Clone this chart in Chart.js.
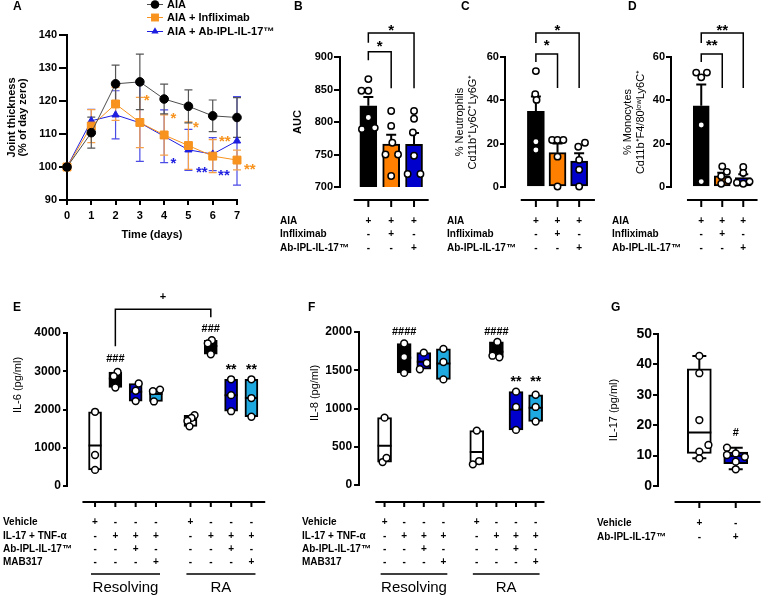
<!DOCTYPE html>
<html>
<head>
<meta charset="utf-8">
<title>AIA figure</title>
<script src="https://cdn.jsdelivr.net/npm/chart.js@4.4.1/dist/chart.umd.min.js"></script>
<style>
  html, body { margin: 0; padding: 0; background: #fff; }
  #fig { position: relative; width: 774px; height: 597px; overflow: hidden; background: #fff; }
  #fig canvas { position: absolute; }
</style>
</head>
<body>
<div id="fig"></div>
<script>
// ---------- data ----------

// A: joint thickness, mean and SEM per day
const days = [0, 1, 2, 3, 4, 5, 6, 7];
const seriesNames = ['AIA', 'AIA + Infliximab', 'AIA + Ab-IPL-IL-17™'];
const aiaMean = [100, 110.4, 125.2, 125.8, 120.6, 118.4, 115.5, 115.0];
const aiaSem = [0, 4.7, 5.7, 8.4, 4.5, 5.0, 4.8, 6.0];
const inflixMean = [100, 112.4, 119.1, 113.5, 109.7, 106.5, 103.3, 102.1];
const inflixSem = [0, 5.0, 5.0, 7.6, 6.1, 7.2, 5.0, 3.0];
const ablMean = [100, 114.0, 115.8, 113.4, 109.3, 105.2, 103.9, 107.9];
const ablSem = [0, 3.5, 7.3, 11.7, 8.0, 6.2, 5.0, 13.4];

// B-D: individual animals per group (bars = mean, whisker = SEM)
const treatRows = ['AIA', 'Infliximab', 'Ab-IPL-IL-17™'];
const treatSigns = [['+', '-', '-'], ['+', '+', '-'], ['+', '-', '+']];
const aucPts = [[866, 848, 848, 807, 789, 791], [817, 794, 768, 750, 750, 717], [817, 805, 784, 748, 720, 720]];
const neutroPts = [[53.5, 42.8, 40.2, 20.9, 17.1], [21.7, 21.7, 21.7, 14.0, 0.2], [18.6, 20.4, 12.5, 8.0, 0.2]];
const monoPts = [[52.8, 50.6, 52.8, 28.6, 2.5], [9.5, 7.0, 5.0, 3.0, 1.5], [9.2, 6.5, 2.0, 2.5, 1.5]];

// E-F: cytokines, min-max bars with line at mean
const cytoRows = ['Vehicle', 'IL-17 + TNF-α', 'Ab-IPL-IL-17™', 'MAB317'];
const cytoSigns = [['+', '-', '-', '-'], ['-', '+', '-', '-'], ['-', '+', '+', '-'], ['-', '+', '-', '+']];
const cytoGroups = ['Resolving', 'RA'];
const il6Pts = [[1940, 810, 420], [2980, 2870, 2575], [2680, 2490, 2220], [2520, 2480, 2210],
  [1850, 1780, 1700, 1560], [3810, 3730, 3445], [2790, 2375, 1955], [2790, 2300, 1810]];
const il8Pts = [[880, 300, 355], [1850, 1673, 1465], [1730, 1595, 1513], [1780, 1608, 1380],
  [711, 270, 313], [1870, 1690, 1670], [1220, 1020, 720], [1180, 1020, 830]];

// G: IL-17, box and whiskers (min to max)
const il17Rows = ['Vehicle', 'Ab-IPL-IL-17™'];
const il17Signs = [['+', '-'], ['-', '+']];
const il17Pts = [[42.8, 37.1, 21.7, 13.5, 11.3, 9.1], [12.6, 10.2, 10.7, 9.6, 8.0, 5.5]];

// horizontal spread of the dots (in category units)
const aucJit = [[0, -0.3, 0, 0, -0.28, 0.28], [0, 0, 0.05, -0.25, 0.3, 0], [0, 0, -0.05, 0, -0.28, 0.28]];
const neutroJit = [[0, -0.03, 0.03, 0, 0], [-0.25, 0, 0.27, 0, 0], [-0.04, 0.27, 0, 0, 0]];
const monoJit = [[-0.24, 0, 0.27, 0, 0], [0, 0.22, -0.05, 0.28, -0.05], [0, 0, -0.3, 0.3, 0]];
const il6Jit = [[0, 0, 0], [0.11, -0.08, 0], [0.15, 0, 0], [0.2, -0.15, -0.1], [0.2, 0.05, -0.15, -0.05], [0.05, -0.15, 0], [0, 0, 0], [0, 0, 0]];
const il8Jit = [[0, -0.1, 0.1], [0, 0, 0], [0, 0.15, -0.2], [0, 0, 0], [0, -0.2, 0.12], [0.05, -0.2, 0.15], [0, 0, 0], [0, 0, 0]];
const il17Jit = [[0, 0, 0, 0.25, 0, 0], [-0.24, -0.24, 0, 0.25, 0, 0]];

// ---------- style ----------
const FONT = '"Liberation Sans", Arial, Helvetica, sans-serif';
const BLACK = '#000000', WHITE = '#FFFFFF', ORANGE = '#FF8000', BLUE = '#0000CC', SKY = '#1FA9E1';
const A_GREY = '#4D4D4D', A_ORANGE = '#F7931E', A_BLUE = '#1E1EE0';
Chart.defaults.font.family = FONT;
Chart.defaults.color = '#000';

const fig = document.getElementById('fig');
const mean = a => a.reduce((s, v) => s + v, 0) / a.length;
const sem = a => {
  const m = mean(a);
  return Math.sqrt(a.reduce((s, v) => s + (v - m) ** 2, 0) / (a.length - 1) / a.length);
};
function quantile(a, p) {
  const s = [...a].sort((u, v) => u - v);
  const pos = p * (s.length + 1) - 1, lo = Math.floor(pos);
  if (lo < 0) return s[0];
  if (lo >= s.length - 1) return s[s.length - 1];
  return s[lo] + (pos - lo) * (s[lo + 1] - s[lo]);
}

function addCanvas(r) {
  const c = document.createElement('canvas');
  c.width = r[2]; c.height = r[3];
  c.style.left = r[0] + 'px'; c.style.top = r[1] + 'px';
  c.style.width = r[2] + 'px'; c.style.height = r[3] + 'px';
  fig.appendChild(c);
  return c;
}

function say(ctx, t, x, y, o = {}) {
  ctx.save();
  ctx.font = `${o.weight || 'bold'} ${o.size || 11}px ${FONT}`;
  ctx.fillStyle = o.color || '#000';
  ctx.textAlign = o.align || 'left';
  ctx.textBaseline = 'middle';
  ctx.translate(x, y);
  if (o.rot) ctx.rotate(o.rot);
  ctx.fillText(t, 0, 0);
  ctx.restore();
}

// significance text placed in data units
function mark(chart, xv, yv, t, size, color) {
  const { ctx, scales: { x, y } } = chart;
  let py = y.getPixelForValue(yv);
  if (t.includes('*')) py += size * 0.22;
  say(ctx, t, x.getPixelForValue(xv), py, { size, align: 'center', color });
}

function bracket(chart, b) {
  const { ctx, scales: { x, y } } = chart;
  const xa = x.getPixelForValue(b.a), xb = x.getPixelForValue(b.b), yt = y.getPixelForValue(b.top);
  ctx.save();
  ctx.strokeStyle = '#000'; ctx.lineWidth = 1.5;
  ctx.beginPath();
  ctx.moveTo(xa, y.getPixelForValue(b.la));
  ctx.lineTo(xa, yt); ctx.lineTo(xb, yt);
  ctx.lineTo(xb, y.getPixelForValue(b.lb));
  ctx.stroke();
  ctx.restore();
  mark(chart, (b.a + b.b) / 2, b.at, b.t, b.size || 15);
}

function errUp(chart, pts, pos, cap) {
  const { ctx, scales: { x, y } } = chart;
  ctx.save(); ctx.strokeStyle = '#000'; ctx.lineWidth = 2;
  ctx.beginPath();
  pts.forEach((a, i) => {
    const px = x.getPixelForValue(pos[i]);
    const y0 = y.getPixelForValue(mean(a)), y1 = y.getPixelForValue(mean(a) + sem(a));
    ctx.moveTo(px, y0); ctx.lineTo(px, y1);
    ctx.moveTo(px - cap / 2, y1); ctx.lineTo(px + cap / 2, y1);
  });
  ctx.stroke(); ctx.restore();
}

function hLines(chart, vals, pos, w) {
  const { ctx, scales: { x, y } } = chart;
  ctx.save(); ctx.strokeStyle = '#000'; ctx.lineWidth = 2;
  ctx.beginPath();
  vals.forEach((v, i) => {
    const px = x.getPixelForValue(pos[i]), py = y.getPixelForValue(v);
    ctx.moveTo(px - w / 2, py); ctx.lineTo(px + w / 2, py);
  });
  ctx.stroke(); ctx.restore();
}

function whiskers(chart, pts, pos, cap) {
  const { ctx, scales: { x, y } } = chart;
  ctx.save(); ctx.strokeStyle = '#000'; ctx.lineWidth = 2;
  ctx.beginPath();
  pts.forEach((a, i) => {
    const px = x.getPixelForValue(pos[i]);
    const lo = y.getPixelForValue(Math.min(...a)), hi = y.getPixelForValue(Math.max(...a));
    ctx.moveTo(px, y.getPixelForValue(quantile(a, 0.75))); ctx.lineTo(px, hi);
    ctx.moveTo(px, y.getPixelForValue(quantile(a, 0.25))); ctx.lineTo(px, lo);
    ctx.moveTo(px - cap / 2, hi); ctx.lineTo(px + cap / 2, hi);
    ctx.moveTo(px - cap / 2, lo); ctx.lineTo(px + cap / 2, lo);
  });
  ctx.stroke(); ctx.restore();
}

function dots(pts, jit, pos, r) {
  return {
    type: 'scatter',
    data: pts.flatMap((a, i) => a.map((v, j) => ({ x: pos[i] + jit[i][j], y: v }))),
    pointRadius: r, pointBackgroundColor: WHITE, pointBorderColor: BLACK, pointBorderWidth: 1.5,
    clip: false, order: 0
  };
}
function barSet(data, colors, w) {
  return { type: 'bar', data, backgroundColor: colors, borderColor: BLACK, borderWidth: 2,
    borderSkipped: false, barThickness: w, order: 1 };
}

function yAxis(o, width) {
  return {
    type: 'linear', min: o.min, max: o.max,
    ticks: { stepSize: o.step, padding: o.pad, color: '#000', font: { size: o.size, weight: 'bold' },
      callback: v => String(v) },
    grid: { drawOnChartArea: false, drawTicks: true, tickLength: o.tick, color: '#000', lineWidth: 2 },
    border: { display: true, color: '#000', width: 2 },
    title: o.title ? {
      display: true, text: o.title, color: '#000',
      font: { size: 11, weight: o.titleWeight || 'bold', lineHeight: o.titleLh || 1.2 },
      padding: { top: o.titlePad, bottom: 0 }
    } : { display: false },
    afterFit: s => { s.width = width; }
  };
}

const baseOptions = pad => ({
  responsive: false, animation: false, devicePixelRatio: 1, events: [],
  layout: { padding: pad },
  plugins: { legend: { display: false }, tooltip: { enabled: false } }
});

// panel with a +/- condition table under an offset category line
function signPanel(p) {
  const [rx, ry, rw, rh] = p.rect;
  const cv = addCanvas(p.rect);
  const plotL = p.x0 + p.xmin * p.dx, plotR = p.x0 + p.xmax * p.dx;
  const opts = baseOptions({ left: 0, bottom: 0, top: p.top - ry, right: rx + rw - plotR });
  opts.scales = {
    x: {
      type: 'linear', min: p.xmin, max: p.xmax, offset: false,
      afterBuildTicks: s => { s.ticks = p.pos.map(v => ({ value: v })); },
      afterFit: s => { s.height = ry + rh - p.bottom; },
      ticks: {
        autoSkip: false, maxRotation: 0, minRotation: 0, padding: p.rowPad, color: '#000',
        font: { size: 10, weight: 'bold', lineHeight: p.rowLh / 10 },
        callback: (v, i) => p.signs[i]
      },
      grid: { display: false, drawTicks: false },
      border: { display: false }
    },
    y: yAxis(p.y, plotL - rx)
  };
  return new Chart(cv, {
    type: 'bar',
    data: { datasets: p.datasets },
    options: opts,
    plugins: [{
      id: 'deco',
      afterDatasetDraw(chart, args) { if (args.index === 0 && p.onBar) p.onBar(chart); },
      afterDraw(chart) {
        const { ctx, scales: { x } } = chart;
        const ly = p.lineY - ry;
        ctx.save(); ctx.strokeStyle = '#000'; ctx.lineWidth = 2;
        ctx.beginPath();
        ctx.moveTo(x.getPixelForValue(p.lineFrom), ly);
        ctx.lineTo(x.getPixelForValue(p.lineTo), ly);
        p.pos.forEach(v => {
          const px = x.getPixelForValue(v);
          ctx.moveTo(px, ly); ctx.lineTo(px, ly + p.tickLen);
        });
        ctx.stroke(); ctx.restore();
        p.rows.forEach((t, i) =>
          say(ctx, t, p.rowX - rx, chart.chartArea.bottom + p.rowPad + p.rowLh * (i + 0.5), { size: 10 }));
        if (p.groups) {
          const g = p.groups;
          const spans = g.sets.map(([i0, i1]) => [x.getPixelForValue(p.pos[i0] - 0.2), x.getPixelForValue(p.pos[i1] + 0.2)]);
          ctx.save(); ctx.strokeStyle = '#000'; ctx.lineWidth = 1.5;
          ctx.beginPath();
          spans.forEach(([a, b]) => { ctx.moveTo(a, g.y - ry); ctx.lineTo(b, g.y - ry); });
          ctx.stroke(); ctx.restore();
          spans.forEach(([a, b], k) =>
            say(ctx, g.labels[k], (a + b) / 2, g.labelY - ry, { size: 15, weight: 'normal', align: 'center' }));
        }
        say(ctx, p.letter[0], p.letter[1] - rx, p.letter[2] - ry, { size: 12 });
        if (p.yTitle) say(ctx, p.yTitle[0], p.yTitle[1] - rx, p.yTitle[2] - ry,
          { size: 11, weight: 'normal', align: 'center', rot: -Math.PI / 2 });
        if (p.draw) p.draw(chart);
      }
    }]
  });
}

// ---------- A ----------
(function () {
  const rect = [0, 0, 285, 250];
  const cv = addCanvas(rect);
  const series = [
    { mean: aiaMean, sem: aiaSem, line: A_GREY, fill: BLACK, err: '#555555', style: 'circle', r: 4.3 },
    { mean: inflixMean, sem: inflixSem, line: A_ORANGE, fill: A_ORANGE, err: '#F6A14A', style: 'rect', r: 5.6 },
    { mean: ablMean, sem: ablSem, line: A_BLUE, fill: A_BLUE, err: '#4B4BE6', style: 'triangle', r: 4.2 }
  ];
  const stars = [
    { x: 3.28, y: 121, t: '*', c: A_ORANGE }, { x: 4.38, y: 115.5, t: '*', c: A_ORANGE },
    { x: 5.31, y: 113, t: '*', c: A_ORANGE }, { x: 6.5, y: 108.7, t: '**', c: A_ORANGE },
    { x: 7.53, y: 100.1, t: '**', c: A_ORANGE },
    { x: 4.38, y: 102.1, t: '*', c: A_BLUE }, { x: 5.55, y: 99.3, t: '**', c: A_BLUE },
    { x: 6.46, y: 98.3, t: '**', c: A_BLUE }
  ];
  const opts = baseOptions({ left: 0, bottom: 0, top: 35, right: 285 - 237 });
  opts.scales = {
    x: {
      type: 'linear', min: 0, max: 7,
      ticks: { stepSize: 1, padding: 4, color: '#000', font: { size: 11, weight: 'bold' } },
      grid: { drawOnChartArea: false, drawTicks: true, tickLength: 5, color: '#000', lineWidth: 2 },
      border: { display: true, color: '#000', width: 2 },
      title: { display: true, text: 'Time (days)', color: '#000', font: { size: 11, weight: 'bold' }, padding: { top: 0, bottom: 8 } },
      afterFit: s => { s.height = 50; }
    },
    y: yAxis({ min: 90, max: 140, step: 10, size: 11, tick: 8, pad: 2,
      title: ['Joint thickness', '(% of day zero)'], titleLh: 1.0, titlePad: 6 }, 67)
  };
  new Chart(cv, {
    type: 'line',
    data: {
      datasets: series.map((s, k) => ({
        label: seriesNames[k],
        data: days.map((d, i) => ({ x: d, y: s.mean[i] })),
        borderColor: s.line, borderWidth: 1, tension: 0,
        pointStyle: s.style, pointRadius: s.r, pointBackgroundColor: s.fill, pointBorderColor: s.fill,
        pointBorderWidth: 1, clip: false, order: k
      }))
    },
    options: opts,
    plugins: [{
      id: 'decoA',
      beforeDatasetsDraw(chart) {
        const { ctx, scales: { x, y } } = chart;
        [2, 1, 0].forEach(k => {
          const s = series[k];
          ctx.save(); ctx.strokeStyle = s.err; ctx.lineWidth = 1.2;
          ctx.beginPath();
          days.forEach((d, i) => {
            if (!s.sem[i]) return;
            const px = x.getPixelForValue(d);
            const hi = y.getPixelForValue(s.mean[i] + s.sem[i]), lo = y.getPixelForValue(s.mean[i] - s.sem[i]);
            ctx.moveTo(px, hi); ctx.lineTo(px, lo);
            ctx.moveTo(px - 4, hi); ctx.lineTo(px + 4, hi);
            ctx.moveTo(px - 4, lo); ctx.lineTo(px + 4, lo);
          });
          ctx.stroke(); ctx.restore();
        });
      },
      afterDraw(chart) {
        const { ctx } = chart;
        stars.forEach(s => mark(chart, s.x, s.y, s.t, 15, s.c));
        // legend
        [4.5, 17.5, 31.5].forEach((ly, k) => {
          const s = series[k];
          ctx.save();
          ctx.strokeStyle = s.line; ctx.lineWidth = 1;
          ctx.beginPath(); ctx.moveTo(147, ly); ctx.lineTo(163, ly); ctx.stroke();
          ctx.fillStyle = s.fill;
          ctx.beginPath();
          if (s.style === 'circle') ctx.arc(155, ly, s.r, 0, Math.PI * 2);
          else if (s.style === 'rect') { const h = s.r * Math.SQRT1_2; ctx.rect(155 - h, ly - h, 2 * h, 2 * h); }
          else { ctx.moveTo(155, ly - s.r); ctx.lineTo(155 + s.r * 0.866, ly + s.r / 2); ctx.lineTo(155 - s.r * 0.866, ly + s.r / 2); ctx.closePath(); }
          ctx.fill(); ctx.restore();
          say(ctx, chart.data.datasets[k].label, 167, ly, { size: 11 });
        });
        say(ctx, 'A', 13, 7, { size: 12 });
      }
    }]
  });
})();

// ---------- B-D ----------
const treatPos = [0, 1, 2];
const treatColors = [BLACK, ORANGE, BLUE];
const meanBars = pts => pts.map((a, i) => ({ x: treatPos[i], y: mean(a) }));

signPanel({
  rect: [275, 0, 170, 260], top: 57, bottom: 187, x0: 371, dx: 25, xmin: -1.24, xmax: 2.76,
  pos: treatPos, signs: treatSigns, rows: treatRows, rowX: 280, rowPad: 27, rowLh: 13.5,
  lineY: 200, lineFrom: -0.64, lineTo: 2.64, tickLen: 7, letter: ['B', 294, 7],
  y: { min: 700, max: 900, step: 50, size: 11, tick: 6, pad: 1, title: 'AUC', titlePad: 16 },
  datasets: [barSet(meanBars(aucPts), treatColors, 17), dots(aucPts, aucJit, treatPos, 3.2)],
  onBar: c => errUp(c, aucPts, treatPos, 10),
  draw: c => {
    bracket(c, { a: 0, b: 1, top: 908, la: 895, lb: 852, at: 920, t: '*' });
    bracket(c, { a: 0, b: 2, top: 937, la: 922, lb: 852, at: 946, t: '*' });
  }
});

signPanel({
  rect: [440, 0, 170, 260], top: 57, bottom: 187, x0: 540, dx: 24.5, xmin: -1.43, xmax: 2.6,
  pos: treatPos, signs: treatSigns, rows: treatRows, rowX: 447, rowPad: 27, rowLh: 13.5,
  lineY: 200, lineFrom: -0.7, lineTo: 2.73, tickLen: 7, letter: ['C', 461, 7],
  y: { min: 0, max: 60, step: 20, size: 11, tick: 5, pad: 1, title: ['% Neutrophils', 'Cd11b⁺Ly6C⁺Ly6G⁺'],
    titleWeight: 'normal', titlePad: 13 },
  datasets: [barSet(meanBars(neutroPts), treatColors, 17), dots(neutroPts, neutroJit, treatPos, 3.2)],
  onBar: c => errUp(c, neutroPts, treatPos, 10),
  draw: c => {
    bracket(c, { a: 0, b: 1, top: 61.4, la: 57.7, lb: 45.7, at: 66.5, t: '*' });
    bracket(c, { a: 0, b: 2, top: 71.1, la: 66.5, lb: 45.7, at: 73.8, t: '*' });
  }
});

signPanel({
  rect: [605, 0, 169, 260], top: 57, bottom: 187, x0: 707, dx: 25, xmin: -1.44, xmax: 2.6,
  pos: treatPos, signs: treatSigns, rows: treatRows, rowX: 612, rowPad: 27, rowLh: 13.5,
  lineY: 200, lineFrom: -0.68, lineTo: 2.68, tickLen: 7, letter: ['D', 628, 7],
  y: { min: 0, max: 60, step: 20, size: 11, tick: 5, pad: 1, title: ['% Monocytes', 'Cd11b⁺F4/80ˡᵒʷLy6C⁺'],
    titleWeight: 'normal', titlePad: 16 },
  datasets: [barSet(meanBars(monoPts), treatColors, 16), dots(monoPts, monoJit, treatPos, 3.2)],
  onBar: c => errUp(c, monoPts, treatPos, 10),
  draw: c => {
    bracket(c, { a: 0, b: 1, top: 61.4, la: 57.7, lb: 45.7, at: 66.5, t: '**' });
    bracket(c, { a: 0, b: 2, top: 71.1, la: 66.5, lb: 45.7, at: 73.8, t: '**' });
  }
});

// ---------- E-F ----------
const cytoPos = il6Pts.map((_, i) => i + (i >= 4 ? 0.7 : 0));
const cytoColors = [WHITE, BLACK, BLUE, SKY, WHITE, BLACK, BLUE, SKY];
const rangeBars = pts => pts.map((a, i) => ({ x: cytoPos[i], y: [Math.min(...a), Math.max(...a)] }));

signPanel({
  rect: [0, 290, 285, 307], top: 333, bottom: 486, x0: 96, dx: 21, xmin: -1.38, xmax: 8.95,
  pos: cytoPos, signs: cytoSigns.concat(cytoSigns), rows: cytoRows, rowX: 3, rowPad: 30, rowLh: 13.3,
  lineY: 502, lineFrom: -0.62, lineTo: 8.38, tickLen: 5, letter: ['E', 13, 308],
  groups: { y: 574, labelY: 588, sets: [[0, 3], [4, 7]], labels: cytoGroups },
  yTitle: ['IL-6 (pg/ml)', 18, 385],
  y: { min: 0, max: 4000, step: 1000, size: 12, tick: 4, pad: 2 },
  datasets: [barSet(rangeBars(il6Pts), cytoColors, 13), dots(il6Pts, il6Jit, cytoPos, 3.4)],
  onBar: c => hLines(c, il6Pts.map(mean), cytoPos, 13),
  draw: c => {
    bracket(c, { a: cytoPos[1], b: cytoPos[5], top: 4618, la: 3652, lb: 4409, at: 4931, t: '+', size: 11 });
    mark(c, cytoPos[1], 3313, '###', 11);
    mark(c, cytoPos[5], 4096, '###', 11);
    mark(c, cytoPos[6], 3105, '**', 14);
    mark(c, cytoPos[7], 3105, '**', 14);
  }
});

signPanel({
  rect: [285, 290, 285, 307], top: 332, bottom: 485, x0: 387, dx: 21.5, xmin: -1.3, xmax: 8.5,
  pos: cytoPos, signs: cytoSigns.concat(cytoSigns), rows: cytoRows, rowX: 302, rowPad: 31, rowLh: 13.3,
  lineY: 502, lineFrom: -0.47, lineTo: 8.15, tickLen: 5, letter: ['F', 308, 308],
  groups: { y: 574, labelY: 588, sets: [[0, 3], [4, 7]], labels: cytoGroups },
  yTitle: ['IL-8 (pg/ml)', 315, 393],
  y: { min: 0, max: 2000, step: 500, size: 12, tick: 5, pad: 2 },
  datasets: [barSet(rangeBars(il8Pts), cytoColors, 14), dots(il8Pts, il8Jit, cytoPos, 3.4)],
  onBar: c => hLines(c, il8Pts.map(mean), cytoPos, 14),
  draw: c => {
    mark(c, cytoPos[1], 1996, '####', 11);
    mark(c, cytoPos[5], 1996, '####', 11);
    mark(c, cytoPos[6], 1383, '**', 14);
    mark(c, cytoPos[7], 1383, '**', 14);
  }
});

// ---------- G ----------
const il17Pos = [0, 1];
signPanel({
  rect: [590, 290, 184, 307], top: 334, bottom: 486, x0: 700, dx: 37, xmin: -1.135, xmax: 1.9,
  pos: il17Pos, signs: il17Signs, rows: il17Rows, rowX: 597, rowPad: 30, rowLh: 14,
  lineY: 502, lineFrom: -0.68, lineTo: 1.68, tickLen: 6, letter: ['G', 611, 308],
  y: { min: 0, max: 50, step: 10, size: 14, tick: 5, pad: 1, title: 'IL-17 (pg/ml)', titleWeight: 'normal', titlePad: 17 },
  datasets: [
    barSet(il17Pts.map((a, i) => ({ x: il17Pos[i], y: [quantile(a, 0.25), quantile(a, 0.75)] })), [WHITE, BLUE], 24),
    dots(il17Pts, il17Jit, il17Pos, 3.4)
  ],
  onBar: c => {
    whiskers(c, il17Pts, il17Pos, 14);
    hLines(c, il17Pts.map(a => quantile(a, 0.5)), il17Pos, 24);
  },
  draw: c => mark(c, 1, 17.4, '#', 11)
});
</script>
</body>
</html>
